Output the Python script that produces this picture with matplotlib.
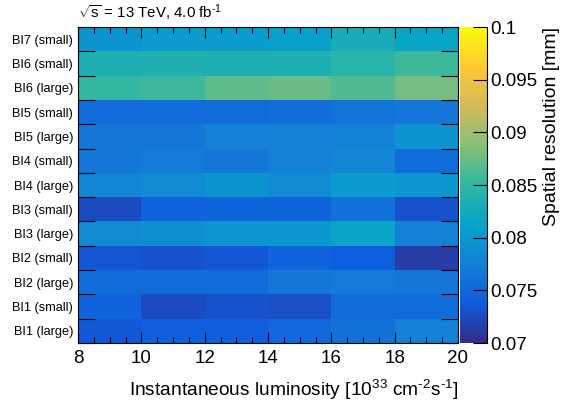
import numpy as np
import matplotlib
matplotlib.use("Agg")
import matplotlib.pyplot as plt
from matplotlib.colors import LinearSegmentedColormap

plt.rcParams["font.family"] = ["Liberation Sans", "DejaVu Sans"]
plt.rcParams["mathtext.fontset"] = "custom"
plt.rcParams["mathtext.rm"] = "Liberation Sans"
plt.rcParams["mathtext.it"] = "Liberation Sans"

# ── data ──────────────────────────────────────────────────────────────────────
lumi_edges = [8, 10, 12, 14, 16, 18, 20]
chambers = ["BI1 (large)", "BI1 (small)", "BI2 (large)", "BI2 (small)",
            "BI3 (large)", "BI3 (small)", "BI4 (large)", "BI4 (small)",
            "BI5 (large)", "BI5 (small)", "BI6 (large)", "BI6 (small)",
            "BI7 (small)"]

# spatial resolution [mm], one row per chamber (bottom to top), one column per lumi bin
res_bi1_large = [0.0735, 0.0740, 0.0740, 0.0750, 0.0760, 0.0775]
res_bi1_small = [0.0745, 0.0725, 0.0730, 0.0727, 0.0755, 0.0755]
res_bi2_large = [0.0755, 0.0755, 0.0755, 0.0765, 0.0768, 0.0765]
res_bi2_small = [0.0735, 0.0730, 0.0735, 0.0745, 0.0740, 0.0715]
res_bi3_large = [0.0785, 0.0790, 0.0797, 0.0800, 0.0815, 0.0775]
res_bi3_small = [0.0725, 0.0745, 0.0745, 0.0745, 0.0760, 0.0730]
res_bi4_large = [0.0780, 0.0785, 0.0795, 0.0785, 0.0805, 0.0800]
res_bi4_small = [0.0765, 0.0770, 0.0765, 0.0775, 0.0780, 0.0755]
res_bi5_large = [0.0765, 0.0765, 0.0775, 0.0775, 0.0777, 0.0795]
res_bi5_small = [0.0755, 0.0753, 0.0755, 0.0757, 0.0763, 0.0765]
res_bi6_large = [0.0852, 0.0857, 0.0870, 0.0875, 0.0865, 0.0880]
res_bi6_small = [0.0835, 0.0837, 0.0835, 0.0835, 0.0845, 0.0857]
res_bi7_small = [0.0795, 0.0805, 0.0805, 0.0808, 0.0830, 0.0815]

z = np.array([res_bi1_large, res_bi1_small, res_bi2_large, res_bi2_small,
              res_bi3_large, res_bi3_small, res_bi4_large, res_bi4_small,
              res_bi5_large, res_bi5_small, res_bi6_large, res_bi6_small,
              res_bi7_small])

# ROOT kBird palette
bird_r = [0.2082, 0.0592, 0.0780, 0.0232, 0.1802, 0.5301, 0.8186, 0.9956, 0.9764]
bird_g = [0.1664, 0.3599, 0.5041, 0.6419, 0.7178, 0.7492, 0.7328, 0.7862, 0.9832]
bird_b = [0.5293, 0.8684, 0.8385, 0.7914, 0.6425, 0.4662, 0.3499, 0.1968, 0.0539]
bird = LinearSegmentedColormap.from_list(
    "bird", list(zip(np.linspace(0, 1, 9), zip(bird_r, bird_g, bird_b))))

HY = "\u2010"  # short hyphen for the exponents, as ROOT draws them

# ── figure ────────────────────────────────────────────────────────────────────
W, H = 566, 403
fig = plt.figure(figsize=(W / 100, H / 100), dpi=100)
ax = fig.add_axes([78 / W, 1 - 343 / H, 380 / W, 316 / H])
cax = fig.add_axes([460 / W, 1 - 343 / H, 27 / W, 316 / H])

y_edges = np.arange(len(chambers) + 1)
mesh = ax.pcolormesh(lumi_edges, y_edges, z, cmap=bird, vmin=0.07, vmax=0.1)

ax.set_xlim(8, 20)
ax.set_ylim(0, len(chambers))
ax.set_xticks(range(8, 21, 2))
ax.set_xticks(np.arange(8, 20.01, 0.5), minor=True)
ax.tick_params(axis="x", which="major", direction="in", length=8, width=0.8,
               top=True, labelsize=13.5, pad=5)
ax.tick_params(axis="x", which="minor", direction="in", length=4, width=0.8, top=True)

# row boundaries get the ticks, row centres carry the labels
ax.set_yticks(y_edges)
ax.set_yticklabels([])
ax.set_yticks(np.arange(len(chambers)) + 0.5, minor=True)
ax.set_yticklabels(chambers, minor=True)
ax.tick_params(axis="y", which="major", direction="in", length=12, width=0.8, right=True)
ax.tick_params(axis="y", which="minor", length=0, labelsize=9.2, pad=3.5)
for s in ax.spines.values():
    s.set_linewidth(0.8)

ax.set_xlabel(f"Instantaneous luminosity [10$^{{33}}$ cm$^{{{HY}2}}$s$^{{{HY}1}}$]",
              fontsize=13.8, loc="right", labelpad=8)
ax.text(0.0, 1.012, rf"$\sqrt{{\mathrm{{s}}}}$ = 13 TeV, 4.0 fb$^{{{HY}1}}$",
        transform=ax.transAxes, fontsize=10.8, ha="left", va="bottom")

cb = fig.colorbar(mesh, cax=cax)
cb.outline.set_visible(False)
cax.spines["right"].set_visible(True)
cax.spines["right"].set_linewidth(0.8)
cb.set_ticks([0.07, 0.075, 0.08, 0.085, 0.09, 0.095, 0.1])
cb.set_ticklabels(["0.07", "0.075", "0.08", "0.085", "0.09", "0.095", "0.1"])
cax.tick_params(direction="in", length=10, width=0.8, labelsize=13.5, pad=2)
cax.minorticks_off()
fig.text(551 / W, 1 - 27 / H, "Spatial resolution [mm]", rotation=90,
         fontsize=14, ha="center", va="top")

fig.savefig("out.png", dpi=100)
